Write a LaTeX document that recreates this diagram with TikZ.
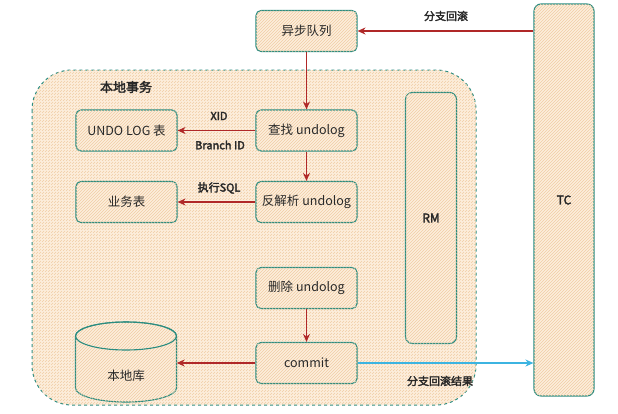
\documentclass[tikz,border=0pt]{standalone}
\usepackage{fontspec}
\setmainfont{Noto Sans CJK SC}[AutoFakeBold=2.5]
\usetikzlibrary{arrows.meta,patterns}
\definecolor{teal1}{RGB}{42,140,128}
\definecolor{beige}{RGB}{253,238,220}
\definecolor{hatch}{RGB}{240,205,165}
\definecolor{redarrow}{RGB}{176,40,40}
\definecolor{bluearrow}{RGB}{60,180,225}
\definecolor{txt}{RGB}{40,40,40}
\tikzset{
  hatched/.style={fill=beige, postaction={pattern=north east lines, pattern color=hatch}},
  box/.style={draw=teal1, line width=1.1pt, rounded corners=5pt, hatched,
    minimum width=101pt, minimum height=41pt, inner sep=0pt,
    font=\fontsize{12.5}{14}\selectfont, text=txt},
  tallbox/.style={draw=teal1, line width=1.1pt, rounded corners=7pt, hatched,
    inner sep=0pt, font=\bfseries\fontsize{12}{14}\selectfont, text=txt},
  lbl/.style={font=\bfseries\fontsize{11}{13}\selectfont, text=txt, inner sep=1pt},
  redarr/.style={draw=redarrow, line width=1.1pt, -{Stealth[length=8pt,width=7pt]}},
  bluearr/.style={draw=bluearrow, line width=1.3pt, -{Stealth[length=8pt,width=7pt]}},
}
\begin{document}
\begin{tikzpicture}[x=1pt,y=-1pt]
\useasboundingbox (0,0) rectangle (618,413);
% container
\path[draw=teal1, line width=1pt, dashed, rounded corners=40pt, hatched] (32,70) rectangle (476,405);
\node[font=\bfseries\fontsize{13}{15}\selectfont, text=txt] (local) at (126,87) {本地事务};
% TC and RM
\node[tallbox, minimum width=60pt, minimum height=392pt] (tc) at (564,200) {TC};
\node[tallbox, minimum width=51pt, minimum height=251pt] (rm) at (431,218) {RM};
% boxes
\node[box] (async) at (306.5,31) {异步队列};
\node[box] (find) at (306.5,130.5) {查找\ undolog};
\node[box] (undo) at (126.5,130.5) {UNDO LOG 表};
\node[box] (parse) at (306.5,202) {反解析 undolog};
\node[box] (biz) at (126.5,202) {业务表};
\node[box] (del) at (306.5,288) {删除 undolog};
\node[box] (commit) at (306.5,363) {commit};
% database cylinder
\path[draw=teal1, line width=1.1pt, hatched]
  (75.5,336) -- (75.5,388)
  arc[start angle=180, end angle=360, x radius=50.5pt, y radius=14pt]
  -- (176.5,336)
  arc[start angle=0, end angle=180, x radius=50.5pt, y radius=14pt] -- cycle;
\draw[teal1, line width=1.1pt] (126,336) ellipse [x radius=50.5pt, y radius=14pt];
\node[minimum width=101pt, minimum height=80pt, inner sep=0pt] (db) at (126,362) {};
\node[font=\fontsize{12.5}{14}\selectfont, text=txt] (dblabel) at (126,376) {本地库};
% arrows
\draw[redarr] (tc.west |- async.east) -- (async.east);
\draw[redarr] (async.south) -- (find.north);
\draw[redarr] (find.west) -- (undo.east);
\draw[redarr] (find.south) -- (parse.north);
\draw[redarr] (parse.west) -- (biz.east);
\draw[redarr] (del.south) -- (commit.north);
\draw[redarr] (commit.west) -- (db.east |- commit.west);
\draw[bluearr] (commit.east) -- (tc.west |- commit.east);
% labels
\node[lbl] (l1) at (446,16) {分支回滚};
\node[lbl] (l2) at (219,116) {XID};
\node[lbl] (l3) at (220,145) {Branch ID};
\node[lbl] (l4) at (219,188) {执行SQL};
\node[lbl] (l5) at (440,381) {分支回滚结果};
\end{tikzpicture}
\end{document}
